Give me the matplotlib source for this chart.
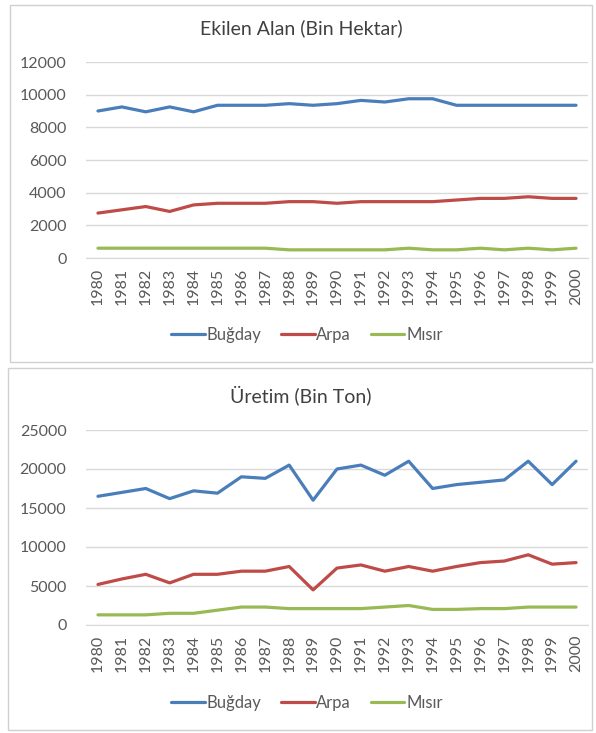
import numpy as np
import matplotlib
matplotlib.use('Agg')
import matplotlib.pyplot as plt
from matplotlib.patches import Rectangle

plt.rcParams['font.family'] = ['Lato', 'DejaVu Sans']

years = list(range(1980, 2001))
series_names = ['Buğday', 'Arpa', 'Mısır']

# Ekilen Alan (Bin Hektar)
alan_bugday = [9000, 9250, 8950, 9250, 8950, 9350, 9350, 9350, 9450, 9350, 9450,
               9650, 9550, 9750, 9750, 9350, 9350, 9350, 9350, 9350, 9350]
alan_arpa = [2750, 2950, 3150, 2850, 3250, 3350, 3350, 3350, 3450, 3450, 3350,
             3450, 3450, 3450, 3450, 3550, 3650, 3650, 3750, 3650, 3650]
alan_misir = [600, 600, 600, 600, 600, 600, 600, 600, 500, 500, 500,
              500, 500, 600, 500, 500, 600, 500, 600, 500, 600]

# Üretim (Bin Ton)
uretim_bugday = [16500, 17000, 17500, 16200, 17200, 16900, 19000, 18800, 20500, 16000, 20000,
                 20500, 19200, 21000, 17500, 18000, 18300, 18600, 21000, 18000, 21000]
uretim_arpa = [5200, 5900, 6500, 5400, 6500, 6500, 6900, 6900, 7500, 4500, 7300,
               7700, 6900, 7500, 6900, 7500, 8000, 8200, 9000, 7800, 8000]
uretim_misir = [1300, 1300, 1300, 1500, 1500, 1900, 2300, 2300, 2100, 2100, 2100,
                2100, 2300, 2500, 2000, 2000, 2100, 2100, 2300, 2300, 2300]

colors = ['#4a7ebb', '#be4b48', '#98b954']

W, H = 596, 733
fig = plt.figure(figsize=(W / 100, H / 100), dpi=100)


def px(x0, y0, x1, y1):
    # pixel box (top-left origin) -> figure fraction
    return [x0 / W, 1 - y1 / H, (x1 - x0) / W, (y1 - y0) / H]


def panel(box, axbox, title, title_y, legend_y, data, ymax, step):
    bx = px(*box)
    fig.patches.append(Rectangle((bx[0], bx[1]), bx[2], bx[3], transform=fig.transFigure,
                                 facecolor='none', edgecolor='#d0d0d0', lw=1, zorder=-1))
    ax = fig.add_axes(px(*axbox))
    ax.patch.set_alpha(0)
    for vals, name, c in zip(data, series_names, colors):
        ax.plot(years, vals, color=c, lw=2.3, label=name, solid_capstyle='round')
    ax.set_ylim(0, ymax)
    ax.set_yticks(np.arange(0, ymax + 1, step))
    ax.set_xlim(years[0] - 0.5, years[-1] + 0.5)
    ax.set_xticks(years)
    ax.set_xticklabels([str(y) for y in years], rotation=90)
    ax.grid(axis='y', color='#d9d9d9', lw=1)
    ax.set_axisbelow(True)
    for s in ['top', 'right', 'left']:
        ax.spines[s].set_visible(False)
    ax.spines['bottom'].set_color('#d9d9d9')
    ax.tick_params(axis='both', length=0, labelsize=11.5, labelcolor='#595959')
    ax.tick_params(axis='y', pad=14)
    ax.tick_params(axis='x', pad=7)
    fig.text(0.505, 1 - title_y / H, title, ha='center', va='center', fontsize=14, color='#404040')
    fig.legend(*ax.get_legend_handles_labels(), loc='center', bbox_to_anchor=(0.515, 1 - legend_y / H),
               ncol=3, frameon=False, fontsize=12, handlelength=2.0, handletextpad=0.1,
               columnspacing=1.2, labelcolor='#595959')
    return ax


panel((10, 5, 592, 362), (86, 62, 588, 258), 'Ekilen Alan (Bin Hektar)', 28, 335,
      [alan_bugday, alan_arpa, alan_misir], 12000, 2000)
panel((8, 368, 592, 730), (86, 430, 588, 625), 'Üretim (Bin Ton)', 395, 703,
      [uretim_bugday, uretim_arpa, uretim_misir], 25000, 5000)

fig.savefig('out.png', dpi=100)
